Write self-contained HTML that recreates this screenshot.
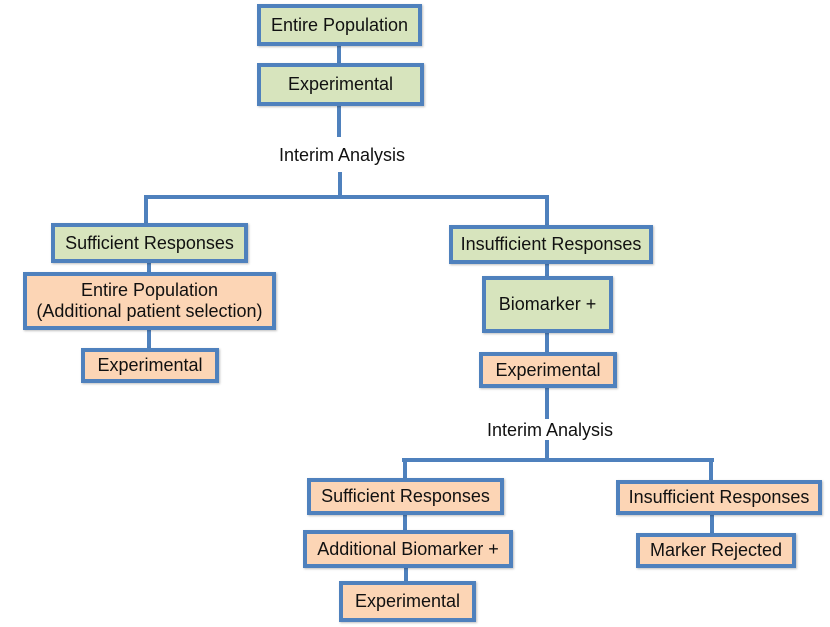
<!DOCTYPE html>
<html><head><meta charset="utf-8"><style>
html,body{margin:0;padding:0;background:#fff;}
body{width:830px;height:627px;position:relative;overflow:hidden;font-family:"Liberation Sans",Arial,sans-serif;color:#111;}
.b{position:absolute;box-sizing:border-box;border:4px solid #4f81bd;display:flex;align-items:center;justify-content:center;text-align:center;font-size:18px;line-height:21px;box-shadow:1px 1px 2px rgba(0,0,0,0.25);}
.g{background:#d7e4bd;}
.o{background:#fcd5b5;}
.v{position:absolute;width:4px;background:#4f81bd;}
.h{position:absolute;height:4px;background:#4f81bd;}
.t{position:absolute;font-size:18px;line-height:20px;white-space:nowrap;transform:translate(-50%,-50%);}
</style></head><body>
<!-- connectors -->
<div class="v" style="left:337px;top:44px;height:21px"></div>
<div class="v" style="left:337px;top:104px;height:33px"></div>
<div class="v" style="left:338px;top:172px;height:27px"></div>
<div class="h" style="left:144px;top:195px;width:405px"></div>
<div class="v" style="left:144px;top:195px;height:30px"></div>
<div class="v" style="left:545px;top:195px;height:32px"></div>
<div class="v" style="left:147px;top:261px;height:13px"></div>
<div class="v" style="left:147px;top:328px;height:22px"></div>
<div class="v" style="left:545px;top:262px;height:16px"></div>
<div class="v" style="left:545px;top:331px;height:23px"></div>
<div class="v" style="left:545px;top:386px;height:33px"></div>
<div class="v" style="left:545px;top:440px;height:22px"></div>
<div class="h" style="left:402px;top:458px;width:312px"></div>
<div class="v" style="left:403px;top:458px;height:22px"></div>
<div class="v" style="left:709px;top:458px;height:24px"></div>
<div class="v" style="left:403px;top:513px;height:19px"></div>
<div class="v" style="left:404px;top:566px;height:17px"></div>
<div class="v" style="left:710px;top:513px;height:22px"></div>

<!-- boxes -->
<div class="b g" style="left:257px;top:4px;width:165px;height:42px">Entire Population</div>
<div class="b g" style="left:257px;top:63px;width:167px;height:43px">Experimental</div>
<div class="t" style="left:342px;top:155px">Interim Analysis</div>

<div class="b g" style="left:51px;top:223px;width:197px;height:40px">Sufficient Responses</div>
<div class="b o" style="left:23px;top:272px;width:253px;height:58px">Entire Population<br>(Additional patient selection)</div>
<div class="b o" style="left:81px;top:348px;width:138px;height:35px">Experimental</div>

<div class="b g" style="left:449px;top:225px;width:204px;height:39px">Insufficient Responses</div>
<div class="b g" style="left:482px;top:276px;width:131px;height:57px">Biomarker +</div>
<div class="b o" style="left:479px;top:352px;width:138px;height:36px">Experimental</div>
<div class="t" style="left:550px;top:430px">Interim Analysis</div>

<div class="b o" style="left:307px;top:478px;width:197px;height:37px">Sufficient Responses</div>
<div class="b o" style="left:303px;top:530px;width:210px;height:38px">Additional Biomarker +</div>
<div class="b o" style="left:339px;top:581px;width:137px;height:41px">Experimental</div>

<div class="b o" style="left:616px;top:480px;width:206px;height:35px">Insufficient Responses</div>
<div class="b o" style="left:636px;top:533px;width:160px;height:35px">Marker Rejected</div>
</body></html>
